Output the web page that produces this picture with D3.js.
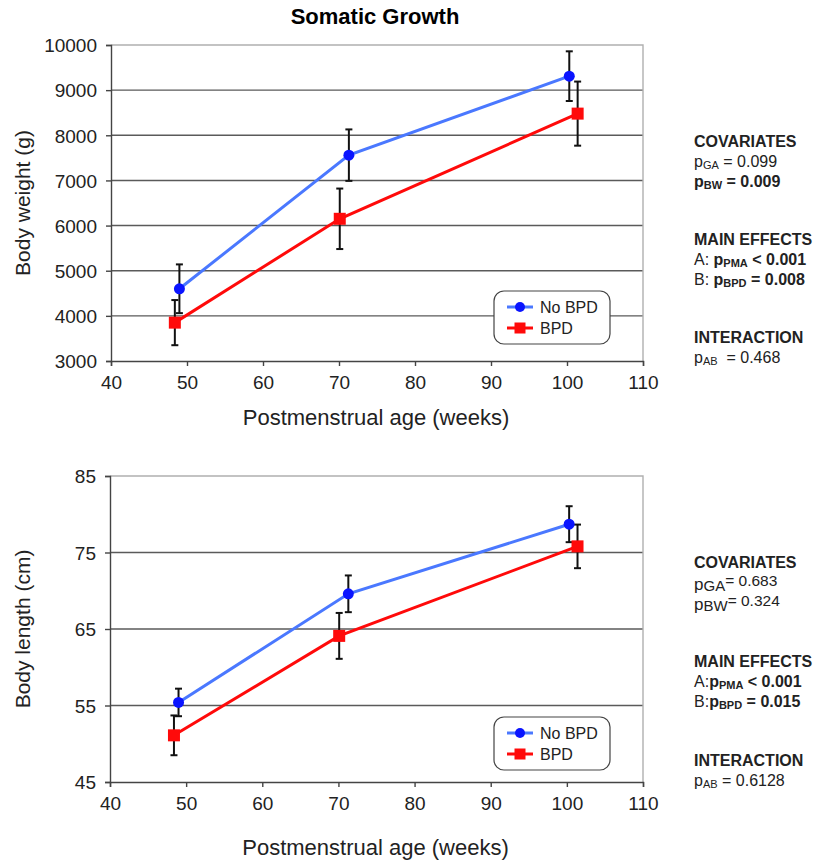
<!DOCTYPE html>
<html>
<head>
<meta charset="utf-8">
<script src="https://cdn.jsdelivr.net/npm/d3@7"></script>
<style>
  html, body { margin: 0; padding: 0; background: #fff; }
  svg { display: block; font-family: "Liberation Sans", Arial, Helvetica, sans-serif; }
</style>
</head>
<body>
<svg id="chart" width="819" height="862"></svg>
<script>
// Postmenstrual age (weeks) at each visit, per group
const ageNoBPD = [49.0, 71.3, 100.3];
const ageBPD = [48.4, 70.1, 101.4];

// Body weight (g): mean and SD
const weightNoBPD = [4600, 7560, 9310];
const weightNoBPDErr = [540, 570, 550];
const weightBPD = [3850, 6150, 8480];
const weightBPDErr = [500, 670, 710];

// Body length (cm): mean and SD
const lengthNoBPD = [55.4, 69.6, 78.7];
const lengthNoBPDErr = [1.8, 2.4, 2.35];
const lengthBPD = [51.1, 64.1, 75.8];
const lengthBPDErr = [2.6, 3.0, 2.85];

// Axis ticks
const xTicks = [40, 50, 60, 70, 80, 90, 100, 110];
const weightTicks = [3000, 4000, 5000, 6000, 7000, 8000, 9000, 10000];
const lengthTicks = [45, 55, 65, 75, 85];

const groupNames = ["No BPD", "BPD"];

// Statistics text: each line is a list of [text, bold, role] segments
const weightStats = [
  [["COVARIATES", true, ""]],
  [["p", false, ""], ["GA", false, "sub"], [" = 0.099", false, ""]],
  [["p", true, ""], ["BW", true, "sub"], [" = 0.009", true, ""]],
  null,
  [["MAIN EFFECTS", true, ""]],
  [["A: ", false, ""], ["p", true, ""], ["PMA", true, "sub"], [" < 0.001", true, ""]],
  [["B: ", false, ""], ["p", true, ""], ["BPD", true, "sub"], [" = 0.008", true, ""]],
  null,
  [["INTERACTION", true, ""]],
  [["p", false, ""], ["AB", false, "sub"], ["  = 0.468", false, ""]]
];
const lengthStats = [
  [["COVARIATES", true, ""]],
  [["p", false, "big"], ["GA", false, "lowcap"], ["= 0.683", false, "up"]],
  [["p", false, "big"], ["BW", false, "lowcap"], ["= 0.324", false, "up"]],
  null,
  [["MAIN EFFECTS", true, ""]],
  [["A:", false, ""], ["p", true, ""], ["PMA", true, "sub"], [" < 0.001", true, ""]],
  [["B:", false, ""], ["p", true, ""], ["BPD", true, "sub"], [" = 0.015", true, ""]],
  null,
  [["INTERACTION", true, ""]],
  [["p", false, ""], ["AB", false, "sub"], [" = 0.6128", false, ""]]
];

const svg = d3.select("#chart");
const BLUE_LINE = "#4a78ff", BLUE_MARK = "#0a14ff", RED = "#ff0a0a";

svg.append("text")
  .attr("x", 375).attr("y", 24)
  .attr("text-anchor", "middle")
  .attr("font-size", 22).attr("font-weight", "bold")
  .text("Somatic Growth");

function drawPanel(cfg) {
  const x = d3.scaleLinear().domain([40, 110]).range([cfg.left, cfg.right]);
  const y = d3.scaleLinear().domain(cfg.yDomain).range([cfg.bottom, cfg.top]);
  const g = svg.append("g");

  // horizontal gridlines
  g.selectAll(".grid").data(cfg.yTicks.slice(1, -1)).enter().append("line")
    .attr("x1", cfg.left).attr("x2", cfg.right)
    .attr("y1", d => y(d)).attr("y2", d => y(d))
    .attr("stroke", "#5a5a5a").attr("stroke-width", 1.4);
  // light frame on top and right
  g.append("path")
    .attr("d", `M${cfg.left},${y(cfg.yDomain[1])}H${cfg.right}V${cfg.bottom}`)
    .attr("fill", "none").attr("stroke", "#b0b0b0").attr("stroke-width", 1.4);

  // axes
  const xAxis = d3.axisBottom(x).tickValues(xTicks).tickFormat(d3.format("d")).tickSize(5).tickPadding(10);
  const yAxis = d3.axisLeft(y).tickValues(cfg.yTicks).tickFormat(d3.format("d")).tickSize(5).tickPadding(9);
  const xg = g.append("g").attr("transform", `translate(0,${cfg.bottom})`).call(xAxis);
  const yg = g.append("g").attr("transform", `translate(${cfg.left},0)`).call(yAxis);
  [xg, yg].forEach(a => {
    a.select(".domain").attr("stroke", "#444").attr("stroke-width", 1.4);
    a.selectAll(".tick line").attr("stroke", "#444").attr("stroke-width", 1.4);
    a.selectAll(".tick text").attr("font-size", 19).attr("fill", "#222")
      .attr("font-family", "Liberation Sans, Arial, sans-serif");
  });
  yg.selectAll(".tick text").attr("dy", "0.36em");

  // axis titles
  g.append("text")
    .attr("x", (cfg.left + cfg.right) / 2 - 1).attr("y", cfg.bottom + cfg.xTitleGap)
    .attr("text-anchor", "middle").attr("font-size", 22).attr("fill", "#222")
    .text("Postmenstrual age (weeks)");
  g.append("text")
    .attr("transform", `translate(30,${(cfg.top + cfg.bottom) / 2}) rotate(-90)`)
    .attr("text-anchor", "middle").attr("font-size", 21).attr("fill", "#222")
    .text(cfg.yTitle);

  const series = [
    { xs: ageNoBPD, ys: cfg.noBPD, err: cfg.noBPDErr, line: BLUE_LINE, mark: BLUE_MARK, shape: "circle" },
    { xs: ageBPD, ys: cfg.bpd, err: cfg.bpdErr, line: RED, mark: RED, shape: "square" }
  ];
  const lineGen = d3.line().x(d => x(d[0])).y(d => y(d[1]));

  series.forEach(s => {
    const pts = s.xs.map((v, i) => [v, s.ys[i], s.err[i]]);
    g.append("path").datum(pts).attr("d", lineGen)
      .attr("fill", "none").attr("stroke", s.line).attr("stroke-width", 3);
  });
  series.forEach(s => {
    const pts = s.xs.map((v, i) => [v, s.ys[i], s.err[i]]);
    const eb = g.append("g").attr("stroke", "#111").attr("stroke-width", 2);
    pts.forEach(p => {
      const cx = x(p[0]);
      eb.append("line").attr("x1", cx).attr("x2", cx)
        .attr("y1", y(p[1] - p[2])).attr("y2", y(p[1] + p[2]));
      [p[1] - p[2], p[1] + p[2]].forEach(v => {
        eb.append("line").attr("x1", cx - 3.5).attr("x2", cx + 3.5)
          .attr("y1", y(v)).attr("y2", y(v));
      });
    });
  });
  series.forEach(s => {
    const pts = s.xs.map((v, i) => [v, s.ys[i]]);
    if (s.shape === "circle") {
      g.selectAll(null).data(pts).enter().append("circle")
        .attr("cx", d => x(d[0])).attr("cy", d => y(d[1])).attr("r", 5.5)
        .attr("fill", s.mark);
    } else {
      g.selectAll(null).data(pts).enter().append("rect")
        .attr("x", d => x(d[0]) - 6).attr("y", d => y(d[1]) - 6)
        .attr("width", 12).attr("height", 12).attr("fill", s.mark);
    }
  });

  // legend
  const lg = g.append("g").attr("transform", `translate(${cfg.legend[0]},${cfg.legend[1]})`);
  lg.append("rect").attr("width", 116).attr("height", 53).attr("rx", 10)
    .attr("fill", "#fff").attr("stroke", "#444").attr("stroke-width", 1.2);
  series.forEach((s, i) => {
    const cy = 16 + i * 21;
    lg.append("line").attr("x1", 13).attr("x2", 39).attr("y1", cy).attr("y2", cy)
      .attr("stroke", s.line).attr("stroke-width", 3);
    if (s.shape === "circle") {
      lg.append("circle").attr("cx", 26).attr("cy", cy).attr("r", 5).attr("fill", s.mark);
    } else {
      lg.append("rect").attr("x", 20.5).attr("y", cy - 5.5).attr("width", 11).attr("height", 11).attr("fill", s.mark);
    }
    lg.append("text").attr("x", 46).attr("y", cy).attr("dy", "0.36em")
      .attr("font-size", 16).attr("fill", "#222").text(groupNames[i]);
  });

  // statistics block
  let yy = cfg.statsTop;
  cfg.stats.forEach(line => {
    if (line === null) { yy += cfg.statsGap; return; }
    const t = svg.append("text").attr("x", 694).attr("y", yy).attr("font-size", 16).attr("fill", "#222");
    let shift = 0;
    line.forEach(seg => {
      const [txt, bold, role] = seg;
      let target = 0, size = 16;
      if (role === "sub") { target = 1.5; size = 11; }
      if (role === "big") { target = 2; size = 17; }
      if (role === "lowcap") { target = 3; size = 15; }
      if (role === "up") { target = -2; size = 15.5; }
      t.append("tspan").attr("dy", target - shift)
        .attr("font-weight", bold ? "bold" : "normal")
        .attr("font-size", size)
        .style("white-space", "pre")
        .text(txt);
      shift = target;
    });
    yy += 20;
  });
}

drawPanel({
  left: 111, right: 643, top: 45, bottom: 361,
  yDomain: [3000, 10000], yTicks: weightTicks, yTitle: "Body weight (g)",
  noBPD: weightNoBPD, noBPDErr: weightNoBPDErr, bpd: weightBPD, bpdErr: weightBPDErr,
  legend: [494, 291], xTitleGap: 64,
  stats: weightStats, statsTop: 147, statsGap: 38
});

drawPanel({
  left: 110, right: 643, top: 476, bottom: 782,
  yDomain: [45, 85], yTicks: lengthTicks, yTitle: "Body length (cm)",
  noBPD: lengthNoBPD, noBPDErr: lengthNoBPDErr, bpd: lengthBPD, bpdErr: lengthBPDErr,
  legend: [494, 717], xTitleGap: 73,
  stats: lengthStats, statsTop: 568, statsGap: 39
});
</script>
</body>
</html>
